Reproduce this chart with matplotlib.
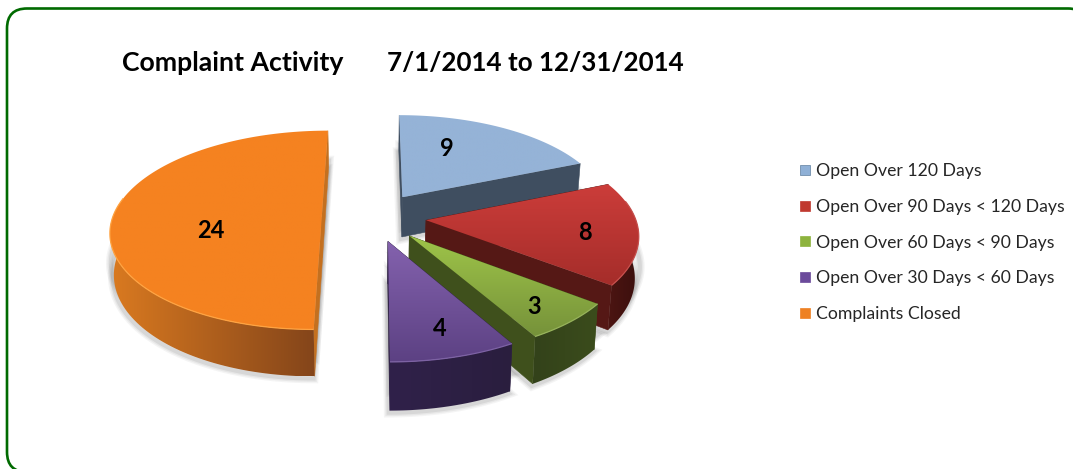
import numpy as np
import matplotlib
matplotlib.use("Agg")
import matplotlib.pyplot as plt
from matplotlib.colors import LinearSegmentedColormap, to_rgb
from matplotlib.lines import Line2D
from matplotlib.patches import FancyBboxPatch, Polygon

categories = ["Open Over 120 Days", "Open Over 90 Days < 120 Days",
              "Open Over 60 Days < 90 Days", "Open Over 30 Days < 60 Days",
              "Complaints Closed"]
values = [9, 8, 3, 4, 24]
top_near = ["#95b3d7", "#a52d2a", "#76923a", "#5c4183", "#f58220"]
top_far = ["#95b3d7", "#cc3d3a", "#9fc549", "#8462ae", "#f58220"]
radial_color = ["#3f4e60", "#551815", "#3f501c", "#2f2145", "#c4701f"]
arc_left = ["#3f4e60", "#4c1512", "#33421a", "#30214a", "#da7a20"]
arc_right = ["#3f4e60", "#3b0f0d", "#3b4c1c", "#2a1e3e", "#84451a"]
legend_color = ["#8fb0d6", "#c0392f", "#8db33e", "#6b4a9b", "#ee8123"]
label_xy = [(447, 148), (585, 232), (534, 307), (440, 328), (211, 231)]

EXPLODE = 0.25
R = 209.0       # radius in pixels at the pie's mid depth
Q = 0.1313      # perspective strength
VX, VY = 375.0, -527.0  # vanishing point
CX = -1.0
K = 744.0
H = 40.8        # thickness
SHRINK = 0.985


def project(X, Y, low=False):
    X, Y = np.asarray(X, float), np.asarray(Y, float)
    w = 1 + Q * Y
    px = (CX + R * X) / w
    if low:
        return VX + px * SHRINK, VY + (K + H) / w
    return VX + px, VY + K / w


fig = plt.figure(figsize=(10.73, 4.69), dpi=100)
ax = fig.add_axes([0, 0, 1, 1])
ax.set_xlim(0, 1073)
ax.set_ylim(469, 0)
ax.axis("off")

ax.add_patch(FancyBboxPatch((7, 8.5), 1081, 463.5,
                            boxstyle="round,pad=0,rounding_size=20",
                            fc="white", ec="#006a00", lw=1.9, zorder=0))

total = sum(values)
angles = np.cumsum([0] + values) / total * 2 * np.pi
slices = []
for i, v in enumerate(values):
    a0, a1 = angles[i], angles[i + 1]
    mid = (a0 + a1) / 2
    ox, oy = EXPLODE * np.sin(mid), EXPLODE * np.cos(mid)
    t = np.linspace(a0, a1, 120)
    slices.append((np.r_[ox, ox + np.sin(t)], np.r_[oy, oy + np.cos(t)]))

# soft drop shadow
for X, Y in slices:
    bx, by = project(X, Y, low=True)
    tx, ty = project(X, Y)
    for lw, al in [(7, .07), (5, .09), (3, .13)]:
        ax.add_patch(Polygon(np.c_[bx - 1, by + 2], closed=True, fc="none", ec="#6e6e6e",
                             lw=lw, alpha=al, zorder=1))
        ax.add_patch(Polygon(np.c_[tx + 1, ty + 30], closed=True, fc="none", ec="#6e6e6e",
                             lw=lw, alpha=al, zorder=1))

z = 2.0
for i in [4, 0, 1, 2, 3]:
    X, Y = slices[i]
    tx, ty = project(X, Y)
    bx, by = project(X, Y, low=True)
    n = len(X)
    # radial side faces, far one first
    faces = []
    for j, k in [(0, 1), (n - 1, 0)]:
        faces.append(((Y[j] + Y[k]) / 2,
                      np.array([[tx[j], ty[j]], [tx[k], ty[k]], [bx[k], by[k]], [bx[j], by[j]]])))
    for _, pts in sorted(faces, key=lambda f: -f[0]):
        ax.add_patch(Polygon(pts, closed=True, fc=radial_color[i], ec=radial_color[i],
                             lw=0.4, zorder=z))
        z += 0.001
    # outer curved side: only the part facing the viewer, shaded left to right
    vis = np.r_[False, (Y[1:] - Y[0]) < 0.15]
    if vis.sum() > 1:
        atx, aty, abx, aby = tx[vis], ty[vis], bx[vis], by[vis]
        arc = Polygon(np.r_[np.c_[atx, aty], np.c_[abx, aby][::-1]], closed=True,
                      fc="none", ec="none", zorder=z)
        ax.add_patch(arc)
        cmap = LinearSegmentedColormap.from_list("a", [arc_left[i], arc_right[i]])
        ext = (min(atx.min(), abx.min()), max(atx.max(), abx.max()),
               max(aty.max(), aby.max()), min(aty.min(), aby.min()))
        im = ax.imshow(np.linspace(0, 1, 256)[None, :], cmap=cmap, aspect="auto", extent=ext,
                       zorder=z + 0.001, interpolation="bilinear")
        im.set_clip_path(arc)
    z += 0.002
    # top face, shaded from far to near
    poly = Polygon(np.c_[tx, ty], closed=True, fc="none", ec="none", zorder=z)
    ax.add_patch(poly)
    grad = LinearSegmentedColormap.from_list("g", [top_far[i], top_near[i]])
    im = ax.imshow(np.linspace(0, 1, 256)[:, None], cmap=grad, aspect="auto",
                   extent=(tx.min(), tx.max(), ty.max(), ty.min()), zorder=z + 0.001,
                   interpolation="bilinear")
    im.set_clip_path(poly)
    front = Y[1:] < Y[0] + 0.2
    rim = tuple(min(1, c + 0.13) for c in to_rgb(top_near[i]))
    ax.plot(tx[1:][front], ty[1:][front], color=rim, lw=0.9, zorder=z + 0.002,
            solid_capstyle="butt")
    z += 0.01

ax.set_xlim(0, 1073)
ax.set_ylim(469, 0)

for (x, y), v in zip(label_xy, values):
    ax.text(x, y, str(v), ha="center", va="center", fontsize=17, fontweight="bold",
            family="Lato", color="black", zorder=50)

ax.text(122, 63, "Complaint Activity", ha="left", va="center", fontsize=19.2,
        fontweight="bold", family="Lato", color="black", zorder=50)
ax.text(387, 63, "7/1/2014 to 12/31/2014", ha="left", va="center", fontsize=18.7,
        fontweight="bold", family="Lato", color="black", zorder=50)

handles = [Line2D([], [], ls="none", marker="s", ms=7.4, mfc=c, mec="#5f7f9f" if i == 0 else c,
                  mew=0.5) for i, c in enumerate(legend_color)]
ax.legend(handles, categories, loc="upper left", bbox_to_anchor=(796 / 1073, 1 - 163 / 469),
          frameon=False, prop={"family": "Lato", "size": 12.7}, labelspacing=1.12,
          handletextpad=0.15, handlelength=1.0, borderpad=0, borderaxespad=0,
          labelcolor="#262626")

fig.savefig("out.png", dpi=100)
